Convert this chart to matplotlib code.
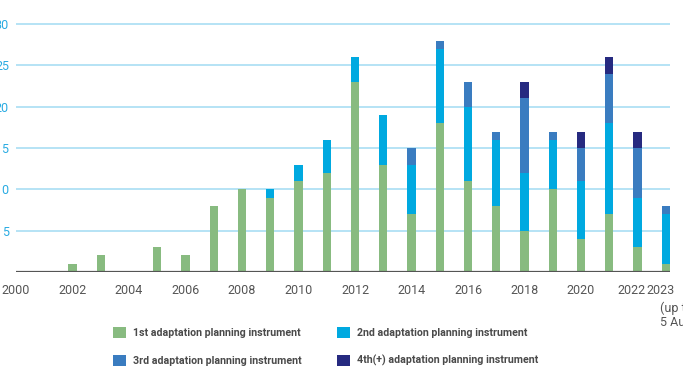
import numpy as np
import matplotlib
matplotlib.use("Agg")
import matplotlib.pyplot as plt
from matplotlib.patches import Patch
from matplotlib.transforms import ScaledTranslation

plt.rcParams['font.family'] = ['Roboto', 'DejaVu Sans']

# data
years = list(range(2000, 2024))
first = [0, 0, 1, 2, 0, 3, 2, 8, 10, 9, 11, 12, 23, 13, 7, 18, 11, 8, 5, 10, 4, 7, 3, 1]
second = [0, 0, 0, 0, 0, 0, 0, 0, 0, 1, 2, 4, 3, 6, 6, 9, 9, 8, 7, 6, 7, 11, 6, 6]
third = [0] * 14 + [2, 1, 3, 1, 9, 1, 4, 6, 6, 1]
fourth = [0] * 14 + [0, 0, 0, 0, 2, 0, 2, 2, 2, 0]
series_names = ['1st adaptation planning instrument', '2nd adaptation planning instrument',
                '3rd adaptation planning instrument', '4th(+) adaptation planning instrument']
colors = ['#88bb80', '#00a9e0', '#3a7cc0', '#262a80']
xtick_years = list(range(2000, 2024, 2)) + [2023]
xtick_labels = [str(y) for y in range(2000, 2024, 2)] + ['2023']
ytick_vals = [5, 10, 15, 20, 25, 30]

W, H = 683, 372
fig = plt.figure(figsize=(W / 100, H / 100), dpi=100)
# axes placed in pixel terms
ax = fig.add_axes([16 / W, 100 / H, (670 - 16) / W, (272 - 20) / H])

x = np.array(years)
bottom = np.zeros(len(years))
for vals, col in zip([first, second, third, fourth], colors):
    v = np.array(vals, dtype=float)
    ax.bar(x, v, width=0.3, bottom=bottom, color=col, linewidth=0, zorder=3)
    bottom += v

ax.set_xlim(2000, 2023.15)
ax.set_ylim(0, 30.5)
ax.set_yticks(ytick_vals)
ax.set_yticklabels([str(v) for v in ytick_vals])
ax.set_xticks(xtick_years)
ax.set_xticklabels(xtick_labels)

ax.grid(axis='y', color='#a9def4', linewidth=1.2, zorder=0)
ax.axhline(0, color='#555555', linewidth=1.6, zorder=4)
for s in ax.spines.values():
    s.set_visible(False)

ax.tick_params(axis='y', length=0, pad=5, labelsize=9, labelcolor='#29abe2')
ax.tick_params(axis='x', length=0, pad=9, labelsize=9, labelcolor='#555555')

# the last two year labels sit a bit to the left
labs = ax.get_xticklabels()
for lab in labs[-2:]:
    lab.set_transform(lab.get_transform() + ScaledTranslation(-4 / 72, 0, fig.dpi_scale_trans))

# note under 2023
fig.text(660 / W, 1 - 302 / H, '(up to\n5 August)', ha='left', va='top',
         fontsize=9, color='#555555', linespacing=1.05)

# legend, two columns placed by hand
h = [Patch(facecolor=c, edgecolor='none') for c in colors]
leg_kw = dict(frameon=False, handlelength=1.2, handleheight=1.2,
              handletextpad=0.65, labelspacing=1.55, borderpad=0, borderaxespad=0,
              prop={'weight': 'bold', 'size': 7.7})
leg1 = fig.legend([h[0], h[2]], [series_names[0], series_names[2]], loc='upper left',
                  bbox_to_anchor=(113 / W, 1 - 327 / H), **leg_kw)
for t in leg1.get_texts():
    t.set_color('#4a4a4a')
leg2 = fig.legend([h[1], h[3]], [series_names[1], series_names[3]], loc='upper left',
                  bbox_to_anchor=(337 / W, 1 - 327 / H), **leg_kw)
for t in leg2.get_texts():
    t.set_color('#4a4a4a')

fig.savefig('out.png', dpi=100)
